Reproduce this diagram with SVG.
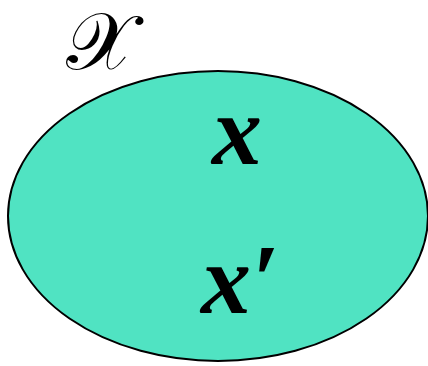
<svg xmlns="http://www.w3.org/2000/svg" width="428" height="366" viewBox="0 0 428 366">
<style>
.v{font-family:"Liberation Serif","DejaVu Serif",serif;font-style:italic;font-weight:bold;font-size:100px;fill:#000}
.s{font-family:"DejaVu Serif","Liberation Serif","Noto Sans",serif;font-size:80px;fill:#000}
</style>
<rect width="428" height="366" fill="#fff"/>
<g id="set">
<ellipse cx="218" cy="216" rx="210" ry="145" fill="#50E3C2" stroke="#000" stroke-width="2"/>
</g>
<g id="label"><text class="s" x="100" y="69" text-anchor="middle">𝒳</text></g>
<g id="x"><text class="v" x="237" y="164" text-anchor="middle">x</text></g>
<g id="xprime"><text class="v" x="240" y="313" text-anchor="middle">x′</text></g>
</svg>
